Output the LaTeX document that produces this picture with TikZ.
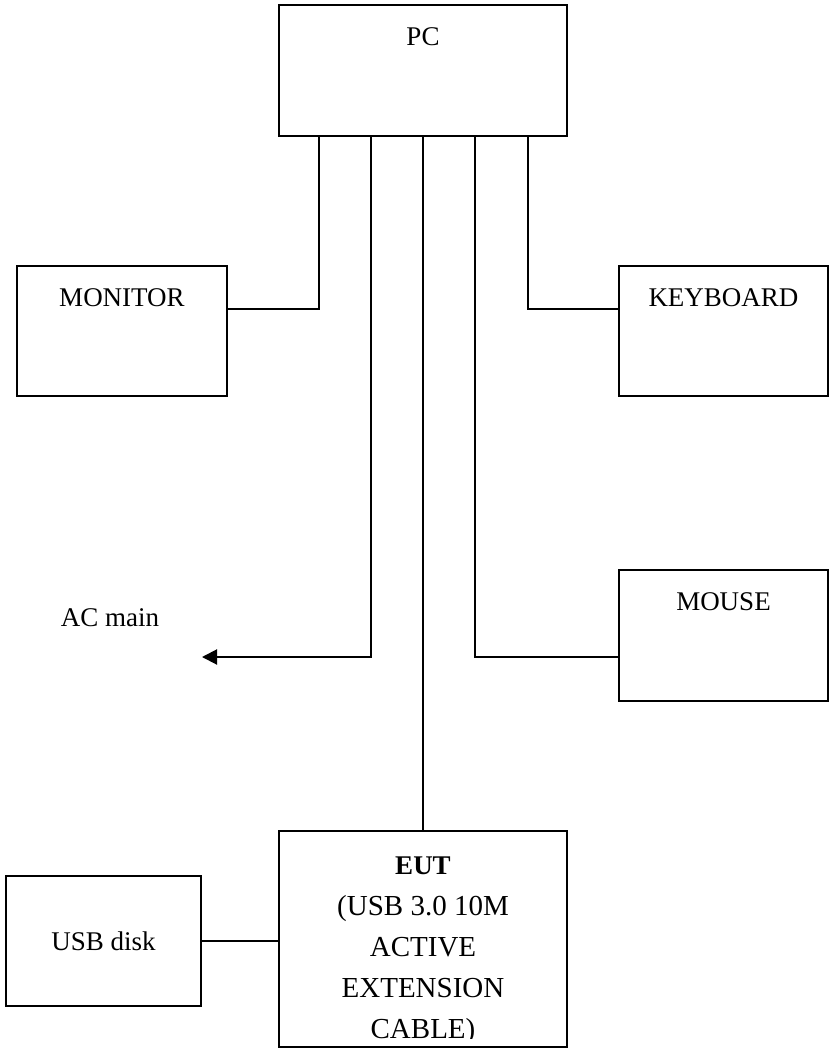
\documentclass[tikz,border=0pt]{standalone}
\usepackage{fontspec}
\setmainfont{Liberation Serif}
\usetikzlibrary{arrows.meta,positioning}
\tikzset{
  box/.style={draw=black,line width=1pt,minimum width=144pt,minimum height=65.5pt,inner sep=0pt,font=\fontsize{13.5}{16}\selectfont},
  boxtext/.style={inner sep=0pt,font=\fontsize{13.5}{16}\selectfont,text=black},
  wire/.style={draw=black,line width=1pt},
  mainsArrow/.style={wire,-{Triangle[length=7.5pt,width=7.5pt]}}
}
\begin{document}
\begin{tikzpicture}[x=0.5pt,y=-0.5pt]
\useasboundingbox (0,0) rectangle (829,1050);
\node[box] (pc) at (423,70.5) {};
\node[box,minimum width=105pt,minimum height=65pt] (monitor) at (122,331) {};
\node[box,minimum width=104.5pt,minimum height=65pt] (keyboard) at (723.5,331) {};
\node[box,minimum width=104.5pt] (mouse) at (723.5,635.5) {};
\node[box,minimum height=108pt] (eut) at (423,939) {};
\node[box,minimum width=97.5pt,minimum height=65pt] (usb) at (103.5,941) {USB disk};
\node[boxtext,below=11.5pt of pc.north] (pcT) {PC};
\node[boxtext,below=11.5pt of monitor.north] (monitorT) {MONITOR};
\node[boxtext,below=11.5pt of keyboard.north] (keyboardT) {KEYBOARD};
\node[boxtext,below=11.5pt of mouse.north] (mouseT) {MOUSE};
\node[boxtext] (acmain) at (110,618) {AC main};
\coordinate (acend) at (202,657);
\begin{scope}
\clip (eut.north west) rectangle ([yshift=5pt]eut.south east);
\node[boxtext,below=13pt of eut.north,align=center,font=\fontsize{14.5}{20.5}\selectfont] (eutT) {{\fontsize{13.5}{20.5}\selectfont\bfseries EUT}\\(USB 3.0 10M\\ACTIVE\\EXTENSION\\CABLE)};
\end{scope}
\draw[wire] ([xshift=-52pt]pc.south) |- ([yshift=11pt]monitor.east);
\draw[wire] ([xshift=52.5pt]pc.south) |- ([yshift=11pt]keyboard.west);
\draw[mainsArrow] ([xshift=-26pt]pc.south) |- (acend);
\draw[wire] ([xshift=26pt]pc.south) |- ([yshift=-10.75pt]mouse.west);
\draw[wire] (pc.south) -- (eut.north);
\draw[wire] (usb.east) -- (usb.east -| eut.west);
\end{tikzpicture}
\end{document}
